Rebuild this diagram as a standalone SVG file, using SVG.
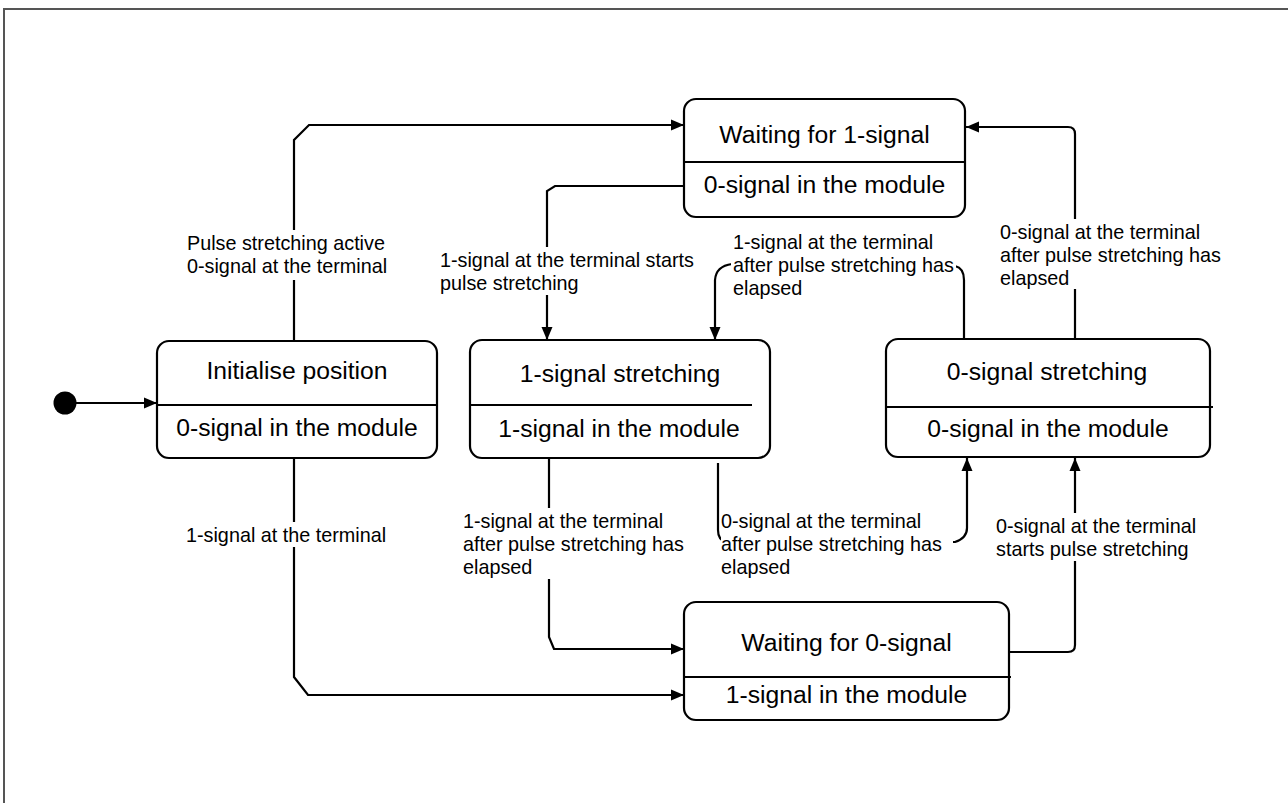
<svg xmlns="http://www.w3.org/2000/svg" width="1288" height="803" viewBox="0 0 1288 803">
<style>
.box{fill:#fff;stroke:#000;stroke-width:2.2}
.div{stroke:#000;stroke-width:2.2;fill:none}
.con{fill:none;stroke:#000;stroke-width:2.2}
.nt{font-family:"Liberation Sans",Arial,sans-serif;font-size:24.7px;fill:#000;text-anchor:middle}
.lt{font-family:"Liberation Sans",Arial,sans-serif;font-size:19.8px;fill:#000}
.bg{fill:#fff;stroke:none}
</style>
<defs>
<marker id="arr" markerUnits="userSpaceOnUse" markerWidth="14" markerHeight="12" refX="13" refY="6" orient="auto">
<path d="M0,0.5 L13,6 L0,11.5 Z" fill="#000"/>
</marker>
</defs>
<rect x="0" y="0" width="1288" height="803" fill="#fff"/>
<rect x="4" y="9" width="1300" height="810" fill="none" stroke="#555" stroke-width="2"/>

<g id="connectors">
<circle cx="65" cy="403" r="11.5" fill="#000"/>
<path class="con" d="M76,403 L157,403" marker-end="url(#arr)"/>
<path class="con" d="M294,341 L294,140 L309,125 L684,125" marker-end="url(#arr)"/>
<path class="con" d="M294,458 L294,677 L308,695 L684,695" marker-end="url(#arr)"/>
<path class="con" d="M684,186 L555,186 L547,191 L547,340" marker-end="url(#arr)"/>
<path class="con" d="M964,339 L964,280 Q964,268 955,266 L732,264 Q716,266 715,280 L715,340" marker-end="url(#arr)"/>
<path class="con" d="M1075,339 L1075,134 Q1075,127 1068,127 L966,127" marker-end="url(#arr)"/>
<path class="con" d="M549,458 L549,637 L554,649 L684,649" marker-end="url(#arr)"/>
<path class="con" d="M718,463 L718,530 Q718,540 726,542 L955,542 Q967,538 967,528 L967,458" marker-end="url(#arr)"/>
<path class="con" d="M1009,652 L1068,652 Q1075,652 1075,645 L1075,458" marker-end="url(#arr)"/>
</g>

<g id="node-waiting1">
<rect class="box" x="684" y="99" width="281" height="118" rx="12"/>
<line class="div" x1="684" y1="162" x2="965" y2="162"/>
<text class="nt" x="824.5" y="143">Waiting for 1-signal</text>
<text class="nt" x="824.5" y="193">0-signal in the module</text>
</g>

<g id="node-init">
<rect class="box" x="157" y="341" width="280" height="117" rx="12"/>
<line class="div" x1="157" y1="405" x2="437" y2="405"/>
<text class="nt" x="297" y="379">Initialise position</text>
<text class="nt" x="297" y="436">0-signal in the module</text>
</g>

<g id="node-1stretch">
<rect class="box" x="470" y="340" width="300" height="118" rx="12"/>
<line class="div" x1="470" y1="405" x2="752" y2="405"/>
<text class="nt" x="620" y="382">1-signal stretching</text>
<text class="nt" x="619" y="437">1-signal in the module</text>
</g>

<g id="node-0stretch">
<rect class="box" x="886" y="339" width="324" height="118" rx="12"/>
<line class="div" x1="886" y1="407" x2="1213" y2="407"/>
<text class="nt" x="1047" y="380">0-signal stretching</text>
<text class="nt" x="1048" y="437">0-signal in the module</text>
</g>

<g id="node-waiting0">
<rect class="box" x="684" y="602" width="325" height="118" rx="12"/>
<line class="div" x1="684" y1="677" x2="1011" y2="677"/>
<text class="nt" x="846.5" y="651">Waiting for 0-signal</text>
<text class="nt" x="846.5" y="703">1-signal in the module</text>
</g>

<g id="label-1">
<rect class="bg" x="185" y="230" width="205" height="50"/>
<text class="lt" x="187" y="250">Pulse stretching active</text>
<text class="lt" x="187" y="273">0-signal at the terminal</text>
</g>
<g id="label-2">
<rect class="bg" x="438" y="247" width="258" height="48"/>
<text class="lt" x="440" y="267">1-signal at the terminal starts</text>
<text class="lt" x="440" y="290">pulse stretching</text>
</g>
<g id="label-3">
<rect class="bg" x="731" y="229" width="225" height="71"/>
<text class="lt" x="733" y="249">1-signal at the terminal</text>
<text class="lt" x="733" y="272">after pulse stretching has</text>
<text class="lt" x="733" y="295">elapsed</text>
</g>
<g id="label-4">
<rect class="bg" x="998" y="219" width="225" height="70"/>
<text class="lt" x="1000" y="239">0-signal at the terminal</text>
<text class="lt" x="1000" y="262">after pulse stretching has</text>
<text class="lt" x="1000" y="285">elapsed</text>
</g>
<g id="label-5">
<rect class="bg" x="184" y="522" width="205" height="25"/>
<text class="lt" x="186" y="542">1-signal at the terminal</text>
</g>
<g id="label-6">
<rect class="bg" x="461" y="508" width="225" height="71"/>
<text class="lt" x="463" y="528">1-signal at the terminal</text>
<text class="lt" x="463" y="551">after pulse stretching has</text>
<text class="lt" x="463" y="574">elapsed</text>
</g>
<g id="label-7">
<rect class="bg" x="721" y="508" width="232" height="71"/>
<text class="lt" x="721" y="528">0-signal at the terminal</text>
<text class="lt" x="721" y="551">after pulse stretching has</text>
<text class="lt" x="721" y="574">elapsed</text>
</g>
<g id="label-8">
<rect class="bg" x="994" y="513" width="206" height="48"/>
<text class="lt" x="996" y="533">0-signal at the terminal</text>
<text class="lt" x="996" y="556">starts pulse stretching</text>
</g>
</svg>
